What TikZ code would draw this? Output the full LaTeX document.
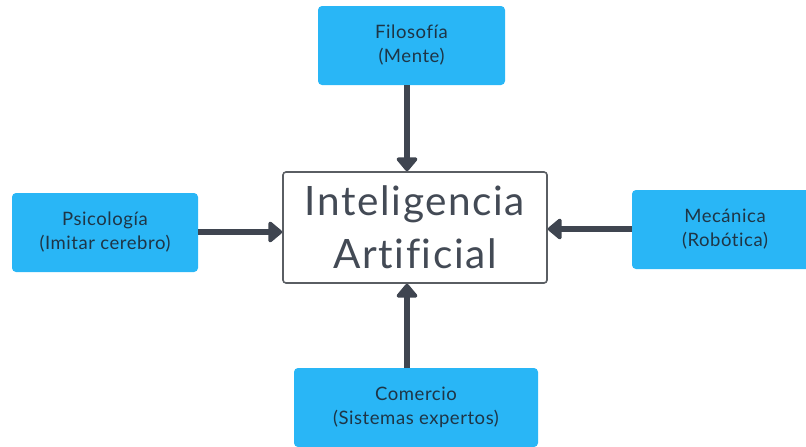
\documentclass[tikz,border=0pt]{standalone}
\usepackage{fontspec}
\setmainfont[Ligatures=CommonOff]{Lato}
\usetikzlibrary{arrows.meta}
\definecolor{boxblue}{HTML}{29B6F6}
\definecolor{arrowgray}{HTML}{3F4550}
\definecolor{txtdark}{HTML}{1E3546}
\definecolor{centertxt}{HTML}{434A55}
\definecolor{centerborder}{HTML}{5A5E63}
\begin{document}
\begin{tikzpicture}[x=1pt,y=-1pt,
  bluebox/.style={fill=boxblue, rounded corners=4pt, minimum width=#1, minimum height=79pt,
    align=center, text=txtdark, font=\fontsize{18.5}{24}\selectfont\addfontfeature{LetterSpace=3}, inner sep=0pt},
  bluebox/.default=187pt,
  conn/.style={arrowgray, line width=5.5pt, -{Triangle[length=15pt,width=24pt,round]}}
]
\useasboundingbox (0,0) rectangle (806,447);
\clip (0,0) rectangle (806,447);
\node[draw=centerborder, line width=1.6pt, rounded corners=3pt, fill=white,
  minimum width=264pt, minimum height=111pt, align=center, text=centertxt,
  font=\fontsize{40.5}{53}\selectfont\addfontfeature{LetterSpace=4}] (ai) at (415,227.5) {Inteligencia\\Artificial};
\node[bluebox=187pt] (fil) at (411.5,45.5) {Filosofía\\(Mente)};
\node[bluebox=186pt] (psi) at (105,232.5) {Psicología\\(Imitar cerebro)};
\node[bluebox=186pt] (mec) at (725,229.5) {Mecánica\\(Robótica)};
\node[bluebox=244pt] (com) at (416,407.5) {Comercio\\(Sistemas expertos)};
\coordinate (filo) at (407,85);
\coordinate (comu) at (407,368);
\draw[conn] (filo) -- (filo |- ai.north);
\draw[conn] (comu) -- (comu |- ai.south);
\draw[conn] (psi.east |- 0,232) -- (ai.west |- 0,232);
\draw[conn] (mec.west |- 0,229) -- (ai.east |- 0,229);
\end{tikzpicture}
\end{document}
